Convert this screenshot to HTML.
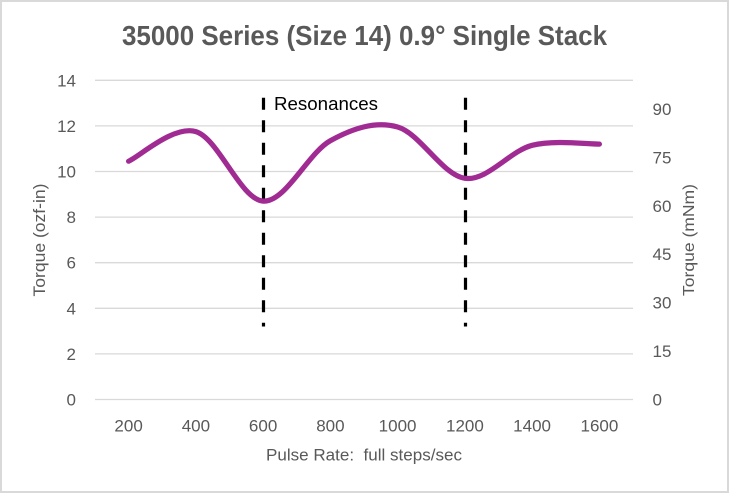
<!DOCTYPE html>
<html><head><meta charset="utf-8"><style>
html,body{margin:0;padding:0;background:#fff;}
svg{display:block;}
text{font-family:"Liberation Sans",Arial,sans-serif;}
</style></head><body>
<svg width="729" height="494" viewBox="0 0 729 494" xmlns="http://www.w3.org/2000/svg">
<rect x="0" y="0" width="729" height="494" fill="#fff"/>
<rect x="1" y="1" width="727" height="491" fill="none" stroke="#d9d9d9" stroke-width="2"/>
<text x="122" y="45" font-size="27.5" font-weight="bold" fill="#595959" textLength="485" lengthAdjust="spacingAndGlyphs">35000 Series (Size 14) 0.9° Single Stack</text>
<g stroke="#d9d9d9" stroke-width="1.3">
<line x1="95" x2="633" y1="80.3" y2="80.3"/>
<line x1="95" x2="633" y1="125.9" y2="125.9"/>
<line x1="95" x2="633" y1="171.5" y2="171.5"/>
<line x1="95" x2="633" y1="217.1" y2="217.1"/>
<line x1="95" x2="633" y1="262.7" y2="262.7"/>
<line x1="95" x2="633" y1="308.3" y2="308.3"/>
<line x1="95" x2="633" y1="353.9" y2="353.9"/>
<line x1="95" x2="633" y1="399.5" y2="399.5"/>
</g>
<g font-size="17" fill="#595959" text-anchor="end">
<text x="76" y="86.3">14</text>
<text x="76" y="131.9">12</text>
<text x="76" y="177.5">10</text>
<text x="76" y="223.1">8</text>
<text x="76" y="268.7">6</text>
<text x="76" y="314.3">4</text>
<text x="76" y="359.9">2</text>
<text x="76" y="405.5">0</text>
</g>
<g font-size="17" fill="#595959" text-anchor="start">
<text x="652.5" y="114.9">90</text>
<text x="652.5" y="163.3">75</text>
<text x="652.5" y="211.8">60</text>
<text x="652.5" y="260.2">45</text>
<text x="652.5" y="308.6">30</text>
<text x="652.5" y="357.1">15</text>
<text x="652.5" y="405.5">0</text>
</g>
<g font-size="17" fill="#595959" text-anchor="middle">
<text x="128.6" y="431.5">200</text>
<text x="195.9" y="431.5">400</text>
<text x="263.1" y="431.5">600</text>
<text x="330.4" y="431.5">800</text>
<text x="397.6" y="431.5">1000</text>
<text x="464.9" y="431.5">1200</text>
<text x="532.1" y="431.5">1400</text>
<text x="599.4" y="431.5">1600</text>
</g>
<text x="266" y="460.5" font-size="17" fill="#595959" textLength="196" lengthAdjust="spacingAndGlyphs">Pulse Rate:&#160; full steps/sec</text>
<text transform="translate(45,240) rotate(-90)" text-anchor="middle" font-size="16.5" fill="#595959" textLength="113" lengthAdjust="spacingAndGlyphs">Torque (ozf-in)</text>
<text transform="translate(694,240) rotate(-90)" text-anchor="middle" font-size="16" fill="#595959" textLength="112" lengthAdjust="spacingAndGlyphs">Torque (mNm)</text>
<g stroke="#000" stroke-width="3.2" stroke-dasharray="12 10.5">
<line x1="263.5" x2="263.5" y1="97.7" y2="326.5"/>
<line x1="465.5" x2="465.5" y1="97.7" y2="326.5"/>
</g>
<text x="274" y="110" font-size="18.5" fill="#000" textLength="104" lengthAdjust="spacingAndGlyphs">Resonances</text>
<path d="M128.6,161.2 C139.8,156.3 173.5,125.0 195.9,131.6 C218.3,138.25 240.7,199.6 263.1,201.1 C285.5,202.6 308.0,153.05 330.4,140.7 C352.8,128.35 375.2,120.73 397.6,127.0 C420.0,133.27 442.5,175.25 464.9,178.3 C487.3,181.35 509.7,151.0 532.1,145.3 C554.5,139.6 588.2,144.3 599.4,144.1" fill="none" stroke="#A02B93" stroke-width="5.2" stroke-linecap="round" stroke-linejoin="round"/>
</svg>
</body></html>
